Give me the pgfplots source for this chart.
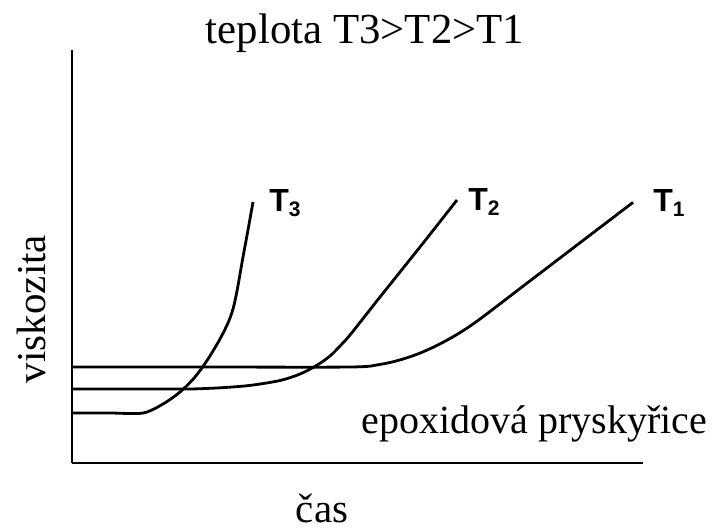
\documentclass[border=0pt]{standalone}
\usepackage{fontspec}
\setmainfont{Liberation Serif}
\setsansfont{Liberation Sans}
\usepackage{pgfplots}
\pgfplotsset{compat=1.18}
\tikzset{curve/.style={black, line width=1.4pt, smooth, tension=0.5, mark=none}}
\newcommand{\tlabel}[1]{T\raisebox{-0.3ex}{\fontsize{10.5}{12}\selectfont #1}}
\begin{document}
\begin{tikzpicture}
% canvas: 716 x 525 units, one unit = 0.5pt
\path (0,0) rectangle (358pt,262.5pt);
\begin{axis}[
  at={(36pt,31pt)}, anchor=south west,
  scale only axis, width=285.5pt, height=206.5pt,
  xmin=72, xmax=643, ymin=62, ymax=475,
  axis x line=bottom, axis y line=left,
  axis line style={-, line width=1.4pt},
  xtick=\empty, ytick=\empty,
  clip=false,
  every node/.append style={inner sep=0pt},
]
% T3
\addplot[curve] coordinates {(72,112) (110,112) (143,112) (163,121) (180,133) (195,148) (208,166) (220,186) (228,202) (233,216) (237,234) (243,268) (248,295) (253,323)};
% T2
\addplot[curve] coordinates {(72,136) (150,136) (190,136) (220,137.2) (250,139.6) (280,144.5) (300,151) (317,159.8) (330,169) (340,179) (350,190) (380,228) (420,278) (457,325)};
% T1
\addplot[curve] coordinates {(72,158) (200,158) (350,158) (380,160.6) (400,165.1) (420,171.9) (440,181.1) (460,192.4) (480,206) (520,236.5) (560,267) (600,297.5) (633,322.6)};

\node[font=\sffamily\bfseries\fontsize{16}{18}\selectfont] at (axis cs:285,322) {\tlabel{3}};
\node[font=\sffamily\bfseries\fontsize{16}{18}\selectfont] at (axis cs:484,323) {\tlabel{2}};
\node[font=\sffamily\bfseries\fontsize{16}{18}\selectfont] at (axis cs:669,322) {\tlabel{1}};

\node[font=\fontsize{21.4}{25}\selectfont, anchor=base] at (axis cs:365,482) {teplota T3>T2>T1};
\node[font=\fontsize{20.5}{24}\selectfont, rotate=90] at (axis cs:31,216) {viskozita};
\node[font=\fontsize{20.5}{24}\selectfont] at (axis cs:322,17) {čas};
\node[font=\fontsize{20}{24}\selectfont, anchor=base east] at (axis cs:714,92) {epoxidová pryskyřice};
\end{axis}
\end{tikzpicture}
\end{document}
